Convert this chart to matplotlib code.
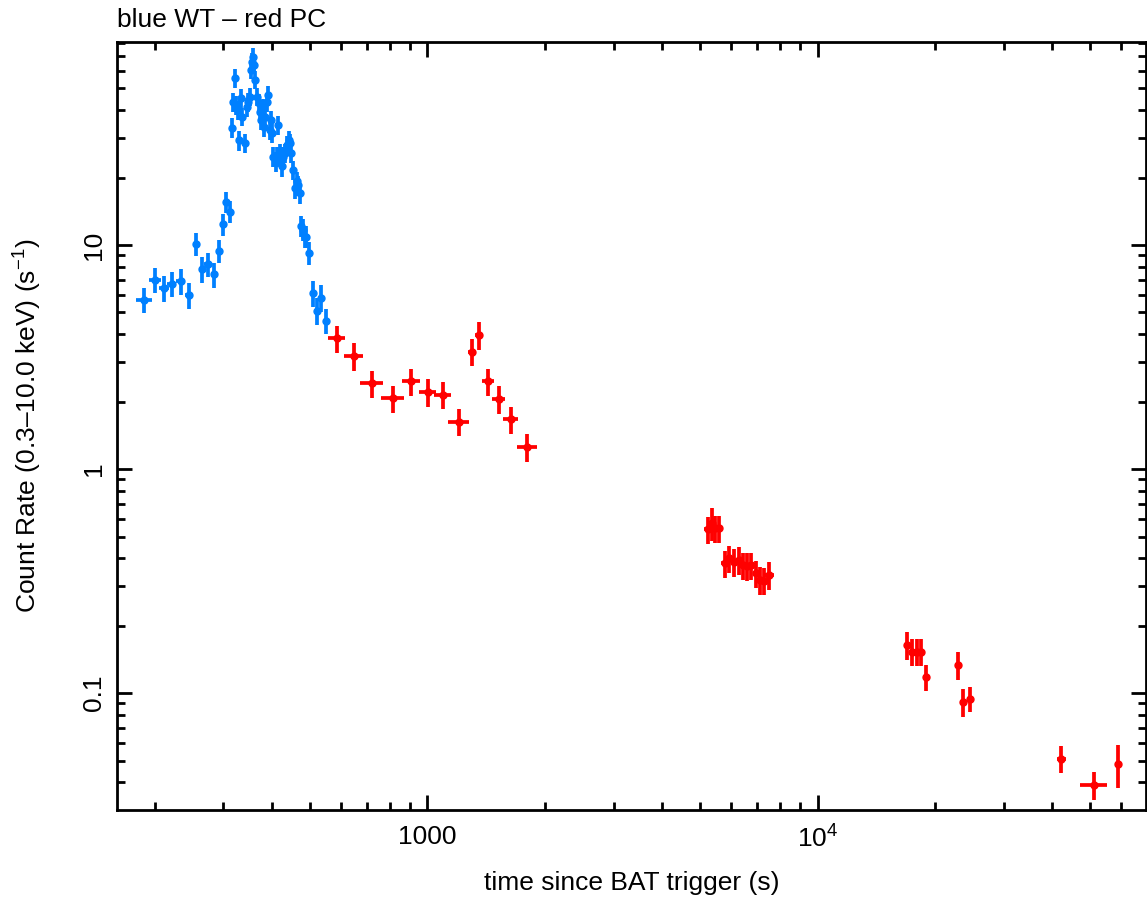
import matplotlib
matplotlib.use("Agg")
import matplotlib.pyplot as plt
from matplotlib.ticker import FixedLocator, NullFormatter

# ---- data ----
wt_time = [188, 200, 211, 221, 233, 245, 255, 264, 273, 283, 292, 299, 305, 312,
           315, 318, 321, 323, 326, 328, 333, 335, 340, 344, 347, 350, 353, 356,
           358, 360, 362, 365, 369, 372, 375, 378, 381, 384, 388, 391, 394, 397,
           400, 403, 408, 411, 413, 418, 423, 426, 431, 436, 441, 444, 448, 453,
           458, 462, 467, 471, 473, 479, 484, 489, 497, 508, 520, 534, 550]
wt_time_err = [9, 7, 6, 6, 6, 6, 5, 5, 5, 5, 5, 4, 4, 4,
               2, 2, 2, 2, 2, 2, 2, 2, 2, 2, 2, 2, 2, 2,
               2, 2, 2, 2, 2, 2, 2, 2, 2, 2, 2, 2, 2, 2,
               2, 2, 2, 2, 2, 2, 2, 2, 2, 2, 2, 2, 2, 2,
               2, 2, 2, 2, 2, 2, 2, 2, 3, 4, 4, 4, 4]
wt_rate = [5.7, 7.0, 6.4, 6.7, 6.9, 6.0, 10.1, 7.8, 8.2, 7.4, 9.4, 12.4, 15.6, 14.1,
           33.4, 43.6, 55.5, 42.2, 40.1, 29.4, 45.2, 37.4, 28.5, 41.4, 43.6, 45.9,
           60.4, 65.8, 69.3, 63.7, 54.6, 45.9, 42.9, 39.4, 36.1, 40.7, 33.7, 37.4,
           43.6, 46.8, 32.6, 36.1, 31.5, 24.8, 23.5, 24.8, 34.3, 25.6, 22.4, 24.8,
           25.6, 27.9, 29.4, 28.5, 25.6, 21.6, 17.9, 19.2, 18.5, 17.0, 12.1, 11.7,
           10.9, 10.9, 9.2, 6.1, 5.1, 5.8, 4.6]
wt_rate_err = [0.75, 0.9, 0.85, 0.85, 0.9, 0.8, 1.2, 1.0, 1.0, 0.95, 1.1, 1.4, 1.7, 1.6,
               3.3, 4.2, 5.2, 4.1, 3.9, 3.0, 4.3, 3.6, 2.9, 4.0,
               4.2, 4.4, 5.6, 6.0, 6.3, 5.8, 5.1, 4.4, 4.1, 3.8,
               3.5, 3.9, 3.3, 3.6, 4.2, 4.5, 3.2, 3.5, 3.1, 2.5,
               2.4, 2.5, 3.3, 2.5, 2.2, 2.5, 2.5, 2.7, 2.9, 2.8,
               2.5, 2.2, 1.8, 1.9, 1.9, 1.7, 1.3, 1.3, 1.2, 1.2,
               1.1, 0.8, 0.7, 0.8, 0.6]

pc_time = [586, 647, 721, 815, 908, 1002, 1094, 1203, 1300, 1359, 1428, 1521, 1633, 1802,
           5236, 5360, 5475, 5605, 5775, 5945, 6100, 6280, 6430, 6590, 6760, 6935, 7100,
           7270, 7530, 16990, 17500, 17950, 18450, 19000, 22950, 23550, 24650,
           42200, 51050, 58900]
pc_time_err = [29, 35, 48, 55, 49, 48, 52, 73, 31, 33, 51, 55, 69, 110,
               125, 90, 90, 100, 110, 100, 100, 100, 110, 110, 110, 110, 110, 120, 220,
               300, 250, 250, 250, 300, 400, 400, 450, 1100, 4000, 1000]
pc_rate = [3.83, 3.19, 2.41, 2.07, 2.46, 2.21, 2.15, 1.63, 3.34, 3.96, 2.46, 2.05, 1.67, 1.26,
           0.538, 0.573, 0.544, 0.544, 0.379, 0.399, 0.385, 0.392, 0.372, 0.370, 0.372,
           0.342, 0.319, 0.317, 0.336, 0.164, 0.153, 0.153, 0.153, 0.118, 0.134, 0.0914,
           0.0946, 0.0510, 0.0388, 0.0482]
pc_rate_err = [0.54, 0.45, 0.34, 0.29, 0.34, 0.31, 0.30, 0.23, 0.47, 0.55, 0.34, 0.29, 0.23, 0.18,
               0.075, 0.095, 0.075, 0.075, 0.053, 0.056, 0.054, 0.055, 0.052, 0.052, 0.052,
               0.048, 0.045, 0.044, 0.047, 0.023, 0.021, 0.021, 0.021, 0.016, 0.019, 0.013,
               0.012, 0.007, 0.0055, 0.0105]

x_major = [1000, 10000]
x_major_labels = ["1000", "10$^4$"]
y_major = [0.1, 1, 10]
y_major_labels = ["0.1", "1", "10"]

# ---- style ----
plt.rcParams["font.family"] = ["Liberation Sans", "DejaVu Sans"]
plt.rcParams["mathtext.fontset"] = "custom"
plt.rcParams["mathtext.rm"] = "Liberation Sans"
plt.rcParams["mathtext.it"] = "Liberation Sans:italic"
plt.rcParams["mathtext.default"] = "regular"

W, H = 1147, 897
fig = plt.figure(figsize=(W / 100, H / 100), dpi=100)
ax = fig.add_axes([117 / W, 87 / H, (1146 - 117) / W, (810 - 42) / H])

blue = "#0080ff"
red = "#ff0000"
ax.errorbar(wt_time, wt_rate, xerr=wt_time_err, yerr=wt_rate_err, fmt="o", ms=5,
            color=blue, ecolor=blue, elinewidth=2.7, capsize=0, zorder=3)
ax.errorbar(pc_time, pc_rate, xerr=pc_time_err, yerr=pc_rate_err, fmt="o", ms=5,
            color=red, ecolor=red, elinewidth=2.7, capsize=0, zorder=3)

ax.set_xscale("log")
ax.set_yscale("log")
ax.set_xlim(160, 69500)
ax.set_ylim(0.0301, 80.5)

minor_x = [m * 10 ** e for e in (2, 3, 4) for m in range(2, 10)]
minor_y = [m * 10 ** e for e in (-2, -1, 0, 1) for m in range(2, 10)]
ax.xaxis.set_major_locator(FixedLocator(x_major))
ax.xaxis.set_minor_locator(FixedLocator(minor_x))
ax.yaxis.set_major_locator(FixedLocator(y_major))
ax.yaxis.set_minor_locator(FixedLocator(minor_y))
ax.set_xticklabels(x_major_labels)
ax.set_yticklabels(y_major_labels)
ax.xaxis.set_minor_formatter(NullFormatter())
ax.yaxis.set_minor_formatter(NullFormatter())

ax.tick_params(which="both", direction="in", top=True, right=True, width=2.0,
               labelsize=19, colors="black")
ax.tick_params(which="major", length=11)
ax.tick_params(which="minor", length=6)
ax.tick_params(axis="x", which="major", pad=11)
ax.tick_params(axis="y", which="major", pad=8)
for lbl in ax.get_yticklabels():
    lbl.set_rotation(90)
    lbl.set_va("center")

for sp in ax.spines.values():
    sp.set_linewidth(2.0)

ax.set_xlabel("time since BAT trigger (s)", fontsize=19, labelpad=13)
ax.set_ylabel("Count Rate (0.3\u201310.0 keV) (s$^{\u22121}$)", fontsize=19, labelpad=27)

fig.text(117 / W, 1 - 27 / H, "blue WT \u2013 red PC", fontsize=19, ha="left", va="baseline")

fig.savefig("out.png", dpi=100)
